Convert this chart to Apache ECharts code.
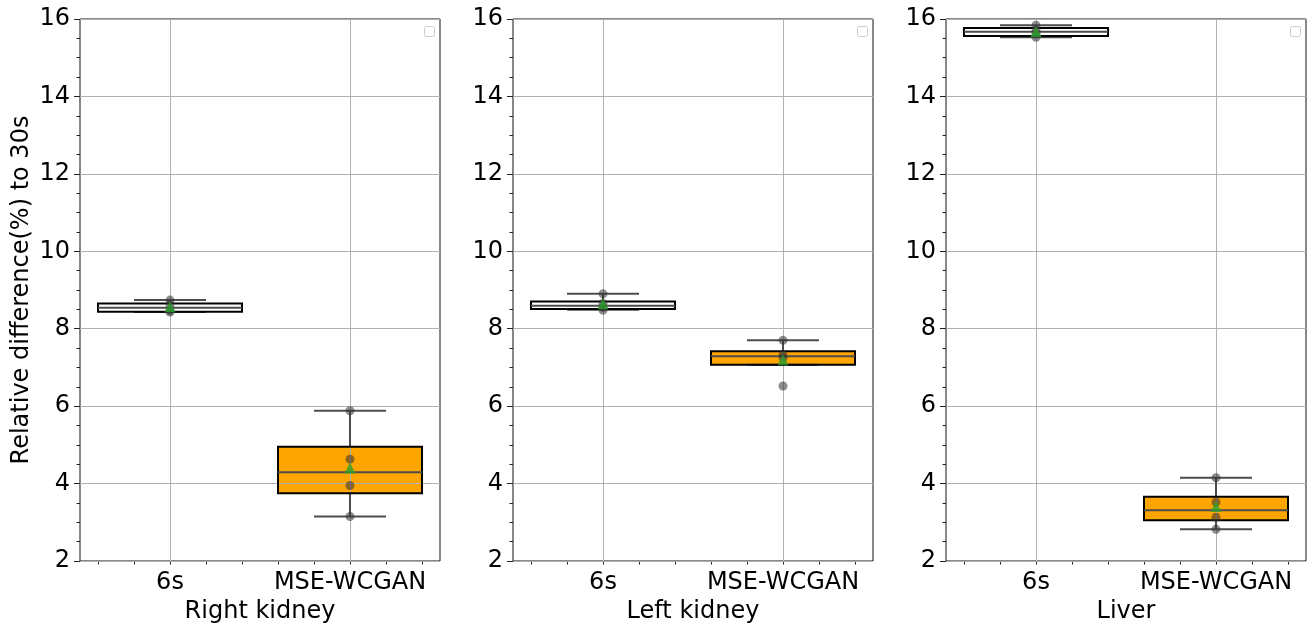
<!DOCTYPE html>
<html><head><meta charset="utf-8">
<script src="https://cdn.jsdelivr.net/npm/echarts@6/dist/echarts.min.js"></script>
<style>html,body{margin:0;padding:0;background:#fff}#c{width:1316px;height:624px}</style>
</head><body><div id="c"></div>
<script>
const categories = ['6s', 'MSE-WCGAN'];
const panelTitles = ['Right kidney', 'Left kidney', 'Liver'];
const yAxisTitle = 'Relative difference(%) to 30s';
const yTickMin = 2, yTickMax = 16, yTickStep = 2;
// five-number summaries: [lower whisker, Q1, median, Q3, upper whisker]
const rightKidneyBoxes = [[8.43, 8.44, 8.54, 8.65, 8.74], [3.15, 3.75, 4.29, 4.95, 5.88]];
const leftKidneyBoxes  = [[8.49, 8.51, 8.59, 8.70, 8.90], [7.07, 7.07, 7.29, 7.42, 7.70]];
const liverBoxes       = [[15.53, 15.56, 15.67, 15.77, 15.84], [2.82, 3.05, 3.31, 3.66, 4.15]];
// individual observations
const rightKidneyPoints = [[8.74, 8.62, 8.47, 8.43], [5.88, 4.63, 3.95, 3.15]];
const leftKidneyPoints  = [[8.90, 8.65, 8.55, 8.48], [7.70, 7.33, 7.25, 6.52]];
const liverPoints       = [[15.84, 15.70, 15.63, 15.53], [4.15, 3.52, 3.13, 2.82]];
// means (green triangles)
const rightKidneyMeans = [8.57, 4.40];
const leftKidneyMeans  = [8.645, 7.20];
const liverMeans       = [15.675, 3.405];
const xMinorTicks = [-0.4, -0.2, 0, 0.2, 0.4, 0.6, 0.8, 1, 1.2, 1.4];

const panels = [
  {title: panelTitles[0], boxes: rightKidneyBoxes, points: rightKidneyPoints, means: rightKidneyMeans},
  {title: panelTitles[1], boxes: leftKidneyBoxes,  points: leftKidneyPoints,  means: leftKidneyMeans},
  {title: panelTitles[2], boxes: liverBoxes,       points: liverPoints,       means: liverMeans}
];

const FONT = 'DejaVu Sans';
const boxFills = ['#ffffff', '#ffa500'];
const gridLefts = [80, 513, 946];
const GRID_TOP = 19, GRID_W = 360, GRID_H = 542;
const GRIDC = '#b0b0b0';
const LINEC = '#4d4d4d';

const grids = [], xAxes = [], yAxes = [], series = [], graphics = [];

panels.forEach((p, i) => {
  grids.push({left: gridLefts[i], top: GRID_TOP, width: GRID_W, height: GRID_H,
    containLabel: false, outerBoundsMode: 'none',
    show: true, borderColor: '#111', borderWidth: 1, backgroundColor: 'transparent'});
  xAxes.push({type: 'category', gridIndex: i, data: categories, boundaryGap: true,
    axisLine: {show: false, onZero: false}, axisTick: {show: false}, splitLine: {show: false},
    axisLabel: {fontSize: 24, color: '#000', fontFamily: FONT, margin: 10, interval: 0},
    name: p.title, nameLocation: 'middle', nameGap: 38,
    nameTextStyle: {fontSize: 24, color: '#000', fontFamily: FONT}});
  xAxes.push({type: 'value', gridIndex: i, min: -0.5, max: 1.5, interval: 0.5, position: 'bottom',
    axisLine: {show: false, onZero: false}, axisTick: {show: false}, axisLabel: {show: false},
    splitLine: {show: true, lineStyle: {color: ['rgba(0,0,0,0)', GRIDC], width: 1}}, z: 2});
  xAxes.push({type: 'value', gridIndex: i, min: -0.5, max: 1.5, position: 'bottom',
    axisLine: {show: false, onZero: false}, axisLabel: {show: false}, splitLine: {show: false},
    axisTick: {show: true, customValues: xMinorTicks, length: 3.5, lineStyle: {color: '#222'}}});
  yAxes.push({type: 'value', gridIndex: i, min: yTickMin, max: yTickMax, interval: yTickStep,
    position: 'left',
    axisLine: {show: false, onZero: false},
    axisTick: {show: true, length: 6, lineStyle: {color: '#222'}},
    minorTick: {show: true, splitNumber: 4, length: 3.5, lineStyle: {color: '#222'}},
    axisLabel: {fontSize: 24, color: '#000', fontFamily: FONT, margin: 10},
    splitLine: {show: true, lineStyle: {color: GRIDC, width: 1}},
    name: i === 0 ? yAxisTitle : '', nameLocation: 'middle', nameGap: 46,
    nameTextStyle: {fontSize: 24, color: '#000', fontFamily: FONT}, z: 2});

  const boxData = p.boxes.map((b, j) => [j].concat(b));
  const xi = i * 3;
  // box fills (below grid lines)
  series.push({type: 'custom', xAxisIndex: xi, yAxisIndex: i, z: 1, silent: true,
    encode: {x: 0, y: [1, 2, 3, 4, 5]}, data: boxData,
    renderItem: (params, api) => {
      const j = api.value(0);
      const band = api.size([1, 0])[0];
      const w = band * 0.8;
      const c = api.coord([j, api.value(3)]);
      const yq1 = api.coord([j, api.value(2)])[1];
      const yq3 = api.coord([j, api.value(4)])[1];
      return {type: 'rect', shape: {x: c[0] - w / 2, y: yq3, width: w, height: yq1 - yq3},
        style: {fill: boxFills[j], stroke: null}};
    }});
  // box outline, whiskers, caps, median
  series.push({type: 'custom', xAxisIndex: xi, yAxisIndex: i, z: 3, silent: true,
    encode: {x: 0, y: [1, 2, 3, 4, 5]}, data: boxData,
    renderItem: (params, api) => {
      const j = api.value(0);
      const band = api.size([1, 0])[0];
      const w = band * 0.8, cw = w / 2;
      const x = api.coord([j, api.value(3)])[0];
      const yMinP = api.coord([j, api.value(1)])[1];
      const yq1 = api.coord([j, api.value(2)])[1];
      const ymed = api.coord([j, api.value(3)])[1];
      const yq3 = api.coord([j, api.value(4)])[1];
      const yMaxP = api.coord([j, api.value(5)])[1];
      const ls = {stroke: LINEC, lineWidth: 2};
      return {type: 'group', children: [
        {type: 'line', shape: {x1: x, y1: yq3, x2: x, y2: yMaxP}, style: ls},
        {type: 'line', shape: {x1: x, y1: yq1, x2: x, y2: yMinP}, style: ls},
        {type: 'line', shape: {x1: x - cw / 2, y1: yMaxP, x2: x + cw / 2, y2: yMaxP}, style: ls},
        {type: 'line', shape: {x1: x - cw / 2, y1: yMinP, x2: x + cw / 2, y2: yMinP}, style: ls},
        {type: 'rect', shape: {x: x - w / 2, y: yq3, width: w, height: yq1 - yq3},
          style: {fill: null, stroke: '#000', lineWidth: 2}},
        {type: 'line', shape: {x1: x - w / 2, y1: ymed, x2: x + w / 2, y2: ymed},
          style: {stroke: LINEC, lineWidth: 2}}
      ]};
    }});
  const pts = [];
  p.points.forEach((arr, j) => arr.forEach(v => pts.push([j, v])));
  series.push({type: 'scatter', xAxisIndex: xi, yAxisIndex: i, z: 4, silent: true,
    symbol: 'circle', symbolSize: 9, data: pts,
    itemStyle: {color: 'rgba(51,51,51,0.7)'}});
  series.push({type: 'scatter', xAxisIndex: xi, yAxisIndex: i, z: 5, silent: true,
    symbol: 'triangle', symbolSize: 11, data: p.means.map((v, j) => [j, v]),
    itemStyle: {color: '#2ca02c'}});

  graphics.push({type: 'rect', left: gridLefts[i] + GRID_W - 16, top: GRID_TOP + 7,
    shape: {width: 10, height: 10, r: 2}, style: {fill: '#fff', stroke: '#cccccc', lineWidth: 1}, z: 10});
});

const chart = echarts.init(document.getElementById('c'), null, {renderer: 'canvas'});
chart.setOption({
  animation: false,
  backgroundColor: '#fff',
  textStyle: {fontFamily: FONT},
  grid: grids, xAxis: xAxes, yAxis: yAxes, series: series, graphic: graphics
});
</script>
</body></html>
